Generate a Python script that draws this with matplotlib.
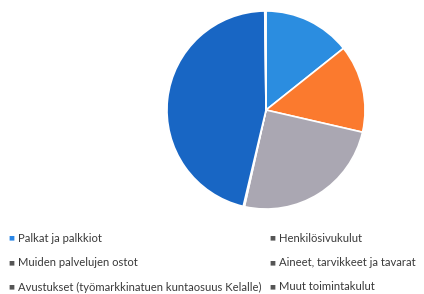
import matplotlib
matplotlib.use("Agg")
import matplotlib.pyplot as plt

categories = ["Palkat ja palkkiot", "Henkilösivukulut", "Muiden palvelujen ostot",
              "Aineet, tarvikkeet ja tavarat",
              "Avustukset (työmarkkinatuen kuntaosuus Kelalle)", "Muut toimintakulut"]
values = [14.3, 14.3, 24.9, 0.2, 46.1, 0.2]
slice_colors = ["#2b8de0", "#fb7a2e", "#aaa7b2", "#f3c53a", "#1866c4", "#eef2f6"]
legend_marker_colors = ["#2a86e6", "#555555", "#555555", "#555555", "#555555", "#555555"]

fig = plt.figure(figsize=(4.24, 2.94), dpi=100)
ax = fig.add_axes([166/424, (294-210)/294, 200/424, 200/294])
ax.pie(values, colors=slice_colors, startangle=90, counterclock=False,
       wedgeprops=dict(edgecolor="white", linewidth=1.2))
ax.set_xlim(-1.01, 1.01)
ax.set_ylim(-1.01, 1.01)
ax.set_aspect("equal")

# legend (2 columns x 3 rows)
col_x = [8, 269]
row_y = [238, 263, 287]
for i, (lab, mc) in enumerate(zip(categories, legend_marker_colors)):
    r, c = i // 2, i % 2
    x = col_x[c]
    y = row_y[r]
    fig.text(x/424, 1 - y/294, "■", color=mc, fontsize=4.5, va="center", ha="left")
    fig.text((x + 10)/424, 1 - y/294, lab, color="#3a3a3a", fontsize=8.1,
             va="center", ha="left", family="Lato")

fig.savefig("out.png", dpi=100)
